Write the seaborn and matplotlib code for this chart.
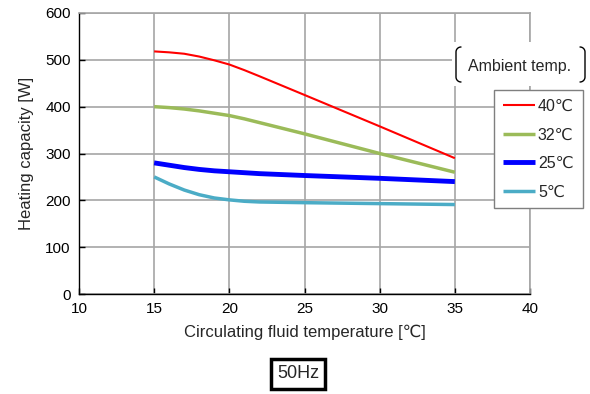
import numpy as np
import pandas as pd
import matplotlib
matplotlib.use("Agg")
import matplotlib.pyplot as plt
import seaborn as sns
from matplotlib.lines import Line2D
from matplotlib.patches import Rectangle

# values
x_40 = [15, 16, 17, 18, 19, 20, 21, 22, 25, 30, 35]
y_40 = [518, 516, 513, 507, 499, 490, 478, 465, 425, 358, 290]
x_32 = [15, 16, 17, 18, 19, 20, 21, 22, 23, 25, 30, 35]
y_32 = [400, 398, 395, 391, 386, 381, 374, 366, 358, 342, 300, 260]
x_25 = [15, 16, 17, 18, 19, 20, 22, 25, 30, 35]
y_25 = [280, 275, 270, 266, 263, 261, 257, 253, 247, 240]
x_5 = [15, 16, 17, 18, 19, 20, 21, 22, 25, 30, 35]
y_5 = [250, 235, 222, 212, 205, 201, 198, 196.5, 195, 193, 191]

labels = ["40℃", "32℃", "25℃", "5℃"]
colors = ["#ff0000", "#9bbb59", "#0000ff", "#4bacc6"]
widths = [1.5, 2.5, 3.5, 2.5]

sns.set_style("white")
plt.rcParams['font.family'] = ['Liberation Sans', 'DejaVu Sans']

fig = plt.figure(figsize=(5.9, 3.94), dpi=100)
ax = fig.add_axes([79 / 590, 1 - 294 / 394, 451 / 590, 281 / 394])

series = [(x_40, y_40), (x_32, y_32), (x_25, y_25), (x_5, y_5)]
for (xs, ys), lab, c, w in zip(series, labels, colors, widths):
    df = pd.DataFrame({"x": xs, "y": ys})
    sns.lineplot(data=df, x="x", y="y", ax=ax, color=c, linewidth=w,
                 label=lab, solid_capstyle="butt", solid_joinstyle="round")

ax.set_xlim(10, 40)
ax.set_ylim(0, 600)
ax.set_xticks(range(10, 41, 5))
ax.set_yticks(range(0, 601, 100))
ax.grid(True, color="#a6a6a6", linewidth=1.2)
ax.set_axisbelow(True)
for s in ["top", "right"]:
    ax.spines[s].set_color("#a6a6a6")
    ax.spines[s].set_linewidth(1.2)
for s in ["left", "bottom"]:
    ax.spines[s].set_color("black")
    ax.spines[s].set_linewidth(1.0)
ax.tick_params(direction="in", length=4, width=1, labelsize=11, colors="black",
               left=True, bottom=True, pad=6)
ax.set_xlabel("Circulating fluid temperature [℃]", fontsize=12, labelpad=6)
ax.set_ylabel("Heating capacity [W]", fontsize=12, labelpad=8)

leg = ax.legend(loc="upper left", bbox_to_anchor=(494 / 590, 1 - 90 / 394),
                bbox_transform=fig.transFigure, frameon=True, fancybox=False,
                fontsize=11.5, handlelength=2.0, handletextpad=0.2,
                labelspacing=0.85, borderpad=0.55, borderaxespad=0,
                framealpha=1)
leg.get_frame().set_edgecolor("#7f7f7f")
leg.get_frame().set_linewidth(1.0)

# "Ambient temp." with bracket marks on a white patch
fig.add_artist(Rectangle((452 / 590, 1 - 86 / 394), 136 / 590, 44 / 394,
                         transform=fig.transFigure, facecolor="white",
                         edgecolor="none", zorder=2))
fig.text(520 / 590, 1 - 66 / 394, "Ambient temp.", ha="center", va="center",
         fontsize=11.5, zorder=3)
def bracket(xe, xi):
    y0, y1 = 1 - 47 / 394, 1 - 82 / 394
    r = 5 / 394
    t = np.linspace(0, 1, 12)
    xs = list(xi / 590 + (xe - xi) / 590 * np.sin(t * np.pi / 2)) + \
        list(xe / 590 + (xi - xe) / 590 * (1 - np.cos(t * np.pi / 2)))
    ys = list(y0 - r * (1 - np.cos(t * np.pi / 2))) + \
        list(y1 + r - r * np.sin(t * np.pi / 2))
    fig.add_artist(Line2D(xs, ys, color="black", linewidth=1.0,
                          transform=fig.transFigure, zorder=3))
bracket(456, 461)
bracket(585, 580)

fig.text(298 / 590, 1 - 374 / 394, "50Hz", ha="center", va="center",
         fontsize=13,
         bbox=dict(boxstyle="square,pad=0.35", facecolor="white",
                   edgecolor="black", linewidth=2.5))

fig.savefig("out.png", dpi=100)
